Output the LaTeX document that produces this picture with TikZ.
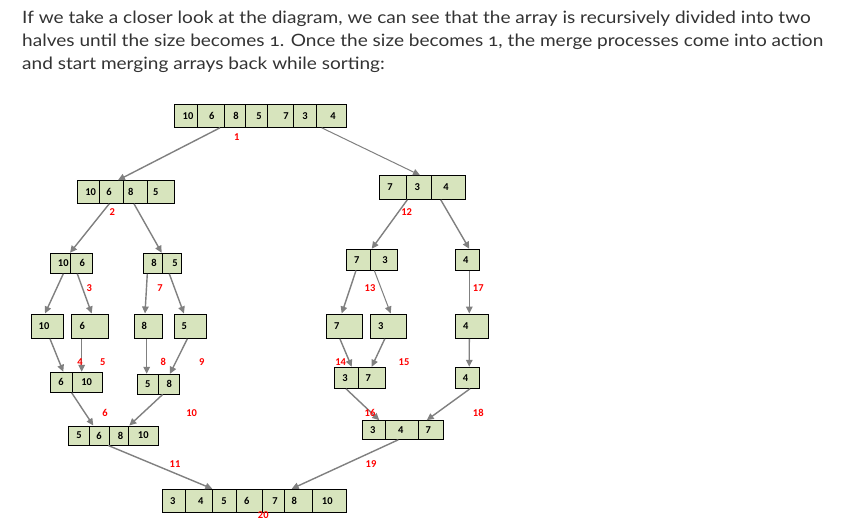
\documentclass[tikz,border=0pt]{standalone}
\usepackage{fontspec}
\setmainfont{Lato}[FakeStretch=1.12]
\newfontfamily\calib{Carlito}
\usetikzlibrary{arrows.meta}
\definecolor{cellfill}{HTML}{D7E4BD}
\definecolor{conncol}{HTML}{808080}
\definecolor{txtcol}{HTML}{333333}
\tikzset{
  cell/.style={draw=black, line width=1pt, fill=cellfill, inner sep=0pt,
    font=\calib\bfseries\fontsize{10.5}{12}\selectfont},
  conn/.style={draw=conncol, line width=1.4pt, -{Triangle[length=7pt,width=6.5pt]}},
  thinconn/.style={conn, line width=1pt},
  steplbl/.style={text=red, inner sep=0pt, font=\calib\bfseries\fontsize{10.5}{12}\selectfont},
  para/.style={anchor=base west, inner sep=0pt, text=txtcol, font=\fontsize{17}{20}\selectfont}
}
% name, x1, x2, y1, y2, text, dx
\newcommand\mcell[7]{%
  \node[cell, minimum width={#3-#2}, minimum height={#5-#4}] (#1) at ({(#2+#3)/2},{(#4+#5)/2})
    {\makebox[0pt]{\hspace{#7pt}\hspace{#7pt}#6}};}
% from, dx, to, dx
\newcommand\conn[4]{\draw[conn] ([xshift=#2pt]#1.south) -- ([xshift=#4pt]#3.north);}
\begin{document}
\begin{tikzpicture}[x=1pt,y=-1pt]
\fill[white] (0,0) rectangle (843,532);
\path[use as bounding box] (0,0) rectangle (843,532);

\node[para] (p1) at (22,23.5) {If we take a closer look at the diagram, we can see that the array is recursively divided into two};
\node[para] (p2) at (22,46.7) {halves until the size becomes {\addfontfeature{Numbers=OldStyle}1}. Once the size becomes {\addfontfeature{Numbers=OldStyle}1}, the merge processes come into action};
\node[para] (p3) at (22,70) {and start merging arrays back while sorting:};

% top array
\mcell{t1}{174.3}{197.7}{104.3}{127.3}{10}{2}
\mcell{t2}{197.7}{224.3}{104.3}{127.3}{6}{0.7}
\mcell{t3}{224.3}{245.7}{104.3}{127.3}{8}{1}
\mcell{t4}{245.7}{267.3}{104.3}{127.3}{5}{2.5}
\mcell{t5}{267.3}{293.3}{104.3}{127.3}{7}{5.7}
\mcell{t6}{293.3}{316}{104.3}{127.3}{3}{0.3}
\mcell{t7}{316}{346}{104.3}{127.3}{4}{2}
% level 2 left
\mcell{l2a}{77.3}{99}{180.7}{203.3}{10}{2.5}
\mcell{l2b}{99}{123.3}{180.7}{203.3}{6}{-2.2}
\mcell{l2c}{123.3}{147.3}{180.7}{203.3}{8}{-4.6}
\mcell{l2d}{147.3}{174.3}{180.7}{203.3}{5}{-5.1}
% level 2 right
\mcell{r2a}{379.3}{406}{175.7}{199.3}{7}{-2.7}
\mcell{r2b}{406}{431}{175.7}{199.3}{3}{-1.2}
\mcell{r2c}{431}{465.7}{175.7}{199.3}{4}{-2.3}
% level 3 left
\mcell{l3a}{50.7}{70.7}{253.3}{273.3}{10}{2.6}
\mcell{l3b}{70.7}{92.7}{253.3}{273.3}{6}{0.6}
\mcell{l3c}{143.3}{162.3}{253.3}{273.3}{8}{1.2}
\mcell{l3d}{162.3}{181.7}{253.3}{273.3}{5}{3}
% level 3 right
\mcell{p1}{346.7}{370.7}{249.3}{270}{7}{-2}
\mcell{p2}{370.7}{397.3}{249.3}{270}{3}{1}
\mcell{p3}{455.7}{479.3}{249.3}{270}{4}{-1.8}
% level 4 left
\mcell{m1}{31.7}{63.3}{314}{338.3}{10}{-3.5}
\mcell{m2}{71.7}{108.3}{314}{338.3}{6}{-7.7}
\mcell{m3}{134.3}{162.3}{314}{338.3}{8}{-4}
\mcell{m4}{174.3}{206}{314}{338.3}{5}{-5.9}
% level 4 right
\mcell{q1}{326.7}{362.3}{314}{338.3}{7}{-7.8}
\mcell{q2}{370.7}{406.7}{314}{338.3}{3}{-8}
\mcell{q3}{455.7}{488.3}{314}{338.3}{4}{-6.3}
% level 5 left
\mcell{n1}{50.7}{72.7}{372.3}{392.3}{6}{-0.7}
\mcell{n2}{72.7}{102.3}{372.3}{392.3}{10}{-0.8}
\mcell{n3}{137.3}{158.3}{374.3}{394}{5}{0}
\mcell{n4}{158.3}{179}{374.3}{394}{8}{0.6}
% level 5 right
\mcell{s1}{334.3}{358.7}{367.3}{388.3}{3}{-1.5}
\mcell{s2}{358.7}{385.3}{367.3}{388.3}{7}{-3.7}
\mcell{s3}{455}{479.3}{367.3}{388.3}{4}{-1.5}
% level 6 left
\mcell{o1}{68.3}{89}{426}{445}{5}{0.3}
\mcell{o2}{89}{109}{426}{445}{6}{0}
\mcell{o3}{109}{128.3}{426}{445}{8}{2}
\mcell{o4}{128.3}{158.3}{426}{445}{10}{0}
% level 6 right
\mcell{u1}{362.3}{385.7}{420.7}{439.3}{3}{-1.3}
\mcell{u2}{385.7}{418.3}{420.7}{439.3}{4}{-1.3}
\mcell{u3}{418.3}{443.3}{420.7}{439.3}{7}{-2.5}
% bottom array
\mcell{b1}{162.3}{185.7}{489.3}{512.3}{3}{-1.3}
\mcell{b2}{185.7}{212.3}{489.3}{512.3}{4}{1.7}
\mcell{b3}{212.3}{236.7}{489.3}{512.3}{5}{-0.5}
\mcell{b4}{236.7}{262.7}{489.3}{512.3}{6}{-3}
\mcell{b5}{262.7}{284.3}{489.3}{512.3}{7}{1.5}
\mcell{b6}{284.3}{312.7}{489.3}{512.3}{8}{-4.2}
\mcell{b7}{312.7}{346.7}{489.3}{512.3}{10}{-2.4}

% connectors
\conn{t2}{9}{l2b}{6.8}
\draw[thinconn] ([xshift=-9.3pt]t7.south) -- ([xshift=1.5pt]r2b.north);
\conn{l2b}{-1.9}{l3a}{9.3}
\conn{l2c}{-1.3}{l3c}{8.9}
\conn{l3a}{2.6}{m1}{-2.5}
\conn{l3b}{-4.4}{m2}{1.7}
\conn{l3c}{-5.5}{m3}{-3.3}
\conn{l3d}{-2.7}{m4}{-6.2}
\conn{m1}{2.5}{n1}{1.6}
\conn{m2}{-8.3}{n2}{-5.8}
\conn{m3}{-1.6}{n3}{-1.1}
\conn{m4}{-2.8}{n4}{1.3}
\conn{n1}{10}{o2}{-5.7}
\conn{n4}{-6}{o4}{-14}
\conn{o2}{9.3}{b2}{13.3}
\conn{r2b}{-11.2}{p1}{13}
\conn{r2c}{-7.6}{p3}{1.8}
\conn{p1}{-2.7}{q1}{-2.8}
\draw[thinconn] ([xshift=-9.7pt]p2.south) -- ([xshift=2pt]q2.north);
\conn{p3}{1.8}{q3}{-2.7}
\conn{q1}{-4.6}{s1}{5.2}
\conn{q2}{-3.9}{s2}{-0.3}
\conn{q3}{-2.7}{s3}{2.1}
\conn{s1}{-0.5}{u1}{5.3}
\conn{s3}{2.8}{u3}{-4.1}
\conn{u2}{-3.7}{b6}{-6.8}

% step labels
\node[steplbl] (k1) at (236.7,136.7) {1};
\node[steplbl] (k2) at (112.3,211.7) {2};
\node[steplbl] (k12) at (406.7,211.7) {12};
\node[steplbl] (k3) at (89.3,287.7) {3};
\node[steplbl] (k7) at (160,287.7) {7};
\node[steplbl] (k13) at (370,287.7) {13};
\node[steplbl] (k17) at (478.3,287.7) {17};
\node[steplbl] (k4) at (80,361.7) {4};
\node[steplbl] (k5) at (102.7,361.7) {5};
\node[steplbl] (k8) at (163.3,361.7) {8};
\node[steplbl] (k9) at (201.7,361.7) {9};
\node[steplbl] (k14) at (340.7,361.7) {14};
\node[steplbl] (k15) at (404,361.7) {15};
\node[steplbl] (k6) at (105,413.3) {6};
\node[steplbl] (k10) at (191.7,413.3) {10};
\node[steplbl] (k16) at (370,413.3) {16};
\node[steplbl] (k18) at (478.3,413.3) {18};
\node[steplbl] (k11) at (175,464.3) {11};
\node[steplbl] (k19) at (371,464) {19};
\node[steplbl] (k20) at (263.3,515) {20};
\end{tikzpicture}
\end{document}
